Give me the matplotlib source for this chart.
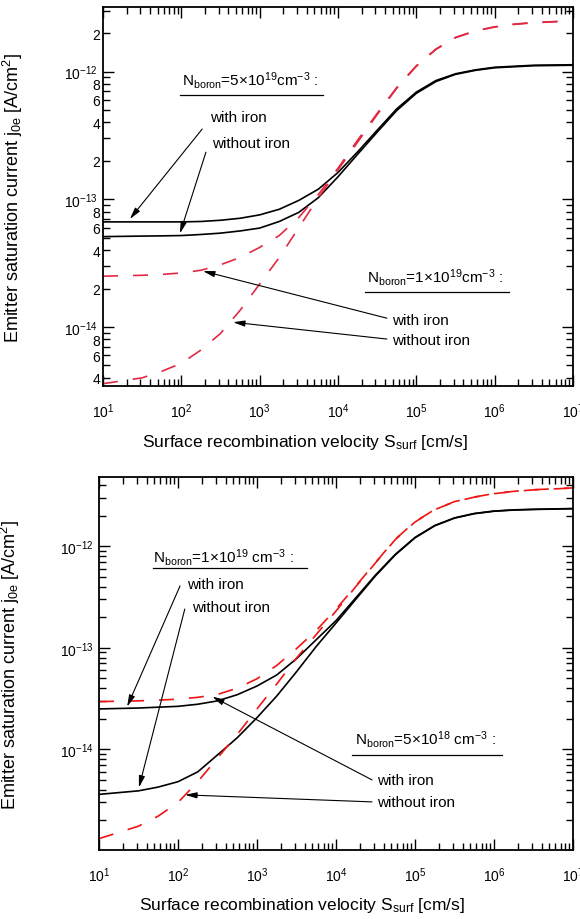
import numpy as np
import matplotlib
matplotlib.use('Agg')
import matplotlib.pyplot as plt
from matplotlib.ticker import LogLocator, LogFormatterMathtext, FuncFormatter, NullFormatter

plt.rcParams['font.family'] = ['Liberation Sans', 'DejaVu Sans']
plt.rcParams['mathtext.fontset'] = 'custom'
plt.rcParams['mathtext.rm'] = 'Liberation Sans'
plt.rcParams['mathtext.it'] = 'Liberation Sans:italic'
plt.rcParams['mathtext.default'] = 'regular'

# surface recombination velocity [cm/s]
s_surf = [10, 31.6, 56.2, 100, 178, 316, 562, 1000, 1780, 3160, 5620,
          1.0e4, 1.78e4, 3.16e4, 5.62e4, 1.0e5, 1.78e5, 3.16e5, 5.62e5, 1.0e6, 1.78e6, 3.16e6, 1.0e7]

# upper panel: black = 5e19, red = 1e19
top_5e19_fe = [6.65e-14, 6.65e-14, 6.65e-14, 6.65e-14, 6.7e-14, 6.85e-14, 7.1e-14, 7.55e-14, 8.35e-14, 9.8e-14, 1.2e-13,
               1.62e-13, 2.35e-13, 3.47e-13, 5.1e-13, 6.9e-13, 8.5e-13, 9.6e-13, 1.03e-12, 1.08e-12, 1.1e-12, 1.12e-12, 1.13e-12]
top_5e19_nofe = [5.1e-14, 5.15e-14, 5.17e-14, 5.2e-14, 5.3e-14, 5.43e-14, 5.65e-14, 5.95e-14, 6.7e-14, 7.9e-14, 1.03e-13,
                 1.5e-13, 2.25e-13, 3.35e-13, 4.95e-13, 6.75e-13, 8.35e-13, 9.5e-13, 1.02e-12, 1.07e-12, 1.09e-12, 1.11e-12, 1.12e-12]
top_1e19_fe = [2.5e-14, 2.54e-14, 2.58e-14, 2.65e-14, 2.78e-14, 3.07e-14, 3.5e-14, 4.2e-14, 5.2e-14, 7.2e-14, 1.09e-13,
               1.75e-13, 2.9e-13, 4.7e-13, 7.5e-13, 1.11e-12, 1.5e-12, 1.85e-12, 2.08e-12, 2.24e-12, 2.35e-12, 2.42e-12, 2.5e-12]
top_1e19_nofe = [3.6e-15, 4.0e-15, 4.5e-15, 5.2e-15, 6.6e-15, 8.9e-15, 1.35e-14, 2.17e-14, 3.5e-14, 6.0e-14, 1.03e-13,
                 1.7e-13, 2.8e-13, 4.6e-13, 7.4e-13, 1.1e-12, 1.49e-12, 1.84e-12, 2.07e-12, 2.23e-12, 2.34e-12, 2.41e-12, 2.49e-12]

# lower panel: black = 1e19, red = 5e18
bot_1e19_fe = [2.5e-14, 2.55e-14, 2.6e-14, 2.65e-14, 2.78e-14, 3.0e-14, 3.45e-14, 4.2e-14, 5.4e-14, 7.8e-14, 1.2e-13,
               1.85e-13, 3.1e-13, 5.2e-13, 8.3e-13, 1.22e-12, 1.6e-12, 1.9e-12, 2.1e-12, 2.22e-12, 2.28e-12, 2.31e-12, 2.35e-12]
bot_1e19_nofe = [3.6e-15, 3.9e-15, 4.25e-15, 4.8e-15, 6.0e-15, 8.8e-15, 1.3e-14, 2.05e-14, 3.35e-14, 5.8e-14, 1.03e-13,
                 1.75e-13, 3.0e-13, 5.1e-13, 8.2e-13, 1.21e-12, 1.59e-12, 1.89e-12, 2.09e-12, 2.21e-12, 2.27e-12, 2.3e-12, 2.34e-12]
bot_5e18_fe = [2.95e-14, 3.0e-14, 3.05e-14, 3.12e-14, 3.25e-14, 3.47e-14, 4.0e-14, 4.95e-14, 6.7e-14, 9.8e-14, 1.48e-13,
               2.4e-13, 4.05e-13, 6.9e-13, 1.17e-12, 1.74e-12, 2.3e-12, 2.75e-12, 3.05e-12, 3.3e-12, 3.47e-12, 3.6e-12, 3.75e-12]
bot_5e18_nofe = [1.32e-15, 1.75e-15, 2.2e-15, 3.0e-15, 4.8e-15, 8.2e-15, 1.4e-14, 2.5e-14, 4.4e-14, 7.9e-14, 1.35e-13,
                 2.3e-13, 4.0e-13, 6.85e-13, 1.16e-12, 1.73e-12, 2.29e-12, 2.74e-12, 3.04e-12, 3.29e-12, 3.46e-12, 3.59e-12, 3.74e-12]

XLABEL = 'Surface recombination velocity S$_{surf}$ [cm/s]'
YLABEL = 'Emitter saturation current j$_{0e}$ [A/cm$^{2}$]'


def minor_lbl(v, pos):
    # only 2, 4, 6, 8 get a label
    m = int(round(v / 10 ** np.floor(np.log10(v) + 1e-9)))
    return str(m) if m in (2, 4, 6, 8) else ''


def setup(ax, ylim, minor_labels):
    ax.set_xscale('log')
    ax.set_yscale('log')
    ax.set_xlim(10, 1e7)
    ax.set_ylim(*ylim)
    for a in (ax.xaxis, ax.yaxis):
        a.set_major_locator(LogLocator(base=10, numticks=20))
        a.set_minor_locator(LogLocator(base=10, subs=np.arange(2, 10), numticks=20))
        a.set_major_formatter(LogFormatterMathtext())
        a.set_minor_formatter(NullFormatter())
    if minor_labels:
        ax.yaxis.set_minor_formatter(FuncFormatter(minor_lbl))
    ax.tick_params(which='both', direction='in', top=True, right=True, width=1.0, labelsize=10)
    ax.tick_params(which='major', length=8)
    ax.tick_params(which='minor', length=5)
    ax.tick_params(axis='x', which='both', pad=11)
    ax.tick_params(axis='y', which='major', pad=4)
    ax.tick_params(axis='y', which='minor', pad=2)
    for sp in ax.spines.values():
        sp.set_linewidth(1.3)
    ax.set_xlabel(XLABEL, fontsize=12.5)
    ax.set_ylabel(YLABEL, fontsize=13)


def block(ax, title, tx, ty, line_x, line_y, lbl_x, lbl_y, tips, starts):
    ax.text(tx, ty, title, transform=ax.transAxes, fontsize=11, ha='left', va='center')
    ax.plot(line_x, [line_y, line_y], transform=ax.transAxes, color='black', lw=0.9, clip_on=False)
    ax.text(lbl_x[0], lbl_y[0], 'with iron', transform=ax.transAxes, fontsize=11, ha='left', va='center')
    ax.text(lbl_x[1], lbl_y[1], 'without iron', transform=ax.transAxes, fontsize=11, ha='left', va='center')
    for tip, st in zip(tips, starts):
        ax.annotate('', xy=tip, xycoords='data', xytext=st, textcoords='axes fraction',
                    arrowprops=dict(arrowstyle='-|>,head_length=0.7,head_width=0.18',
                                    color='black', lw=0.8, shrinkA=0, shrinkB=0))


fig = plt.figure(figsize=(5.8, 9.2), dpi=100)

# ---------------- upper panel ----------------
ax1 = fig.add_axes([0.1776, 0.5793, 0.8103, 0.412])
red1 = '#e02a44'
ax1.plot(s_surf, top_5e19_fe, color='black', lw=1.2)
ax1.plot(s_surf, top_5e19_nofe, color='black', lw=1.2)
ax1.plot(s_surf, top_1e19_fe, color=red1, lw=1.2, dashes=(9, 9))
ax1.plot(s_surf, top_1e19_nofe, color=red1, lw=1.2, dashes=(9, 9))
setup(ax1, (3.45e-15, 3.2e-12), True)
ax1.xaxis.set_label_coords(0.43, -0.122)
ax1.yaxis.set_label_coords(-0.166, 0.5)

block(ax1, 'N$_{boron}$=5×10$^{19}$cm$^{-3}$ :', 0.168, 0.810, [0.164, 0.468], 0.768,
      (0.228, 0.232), (0.710, 0.641),
      [(22, 7.0e-14), (96, 5.4e-14)], [(0.211, 0.678), (0.219, 0.617)])
block(ax1, 'N$_{boron}$=1×10$^{19}$cm$^{-3}$ :', 0.562, 0.290, [0.557, 0.864], 0.248,
      (0.615, 0.615), (0.174, 0.121),
      [(189, 2.74e-14), (457, 1.09e-14)], [(0.604, 0.179), (0.604, 0.124)])

# ---------------- lower panel ----------------
ax2 = fig.add_axes([0.1707, 0.075, 0.8172, 0.4054])
red2 = '#f01414'
ax2.plot(s_surf, bot_1e19_fe, color='black', lw=1.2)
ax2.plot(s_surf, bot_1e19_nofe, color='black', lw=1.2)
ax2.plot(s_surf, bot_5e18_fe, color=red2, lw=1.2, dashes=(9, 9))
ax2.plot(s_surf, bot_5e18_nofe, color=red2, lw=1.2, dashes=(9, 9))
setup(ax2, (1.02e-15, 4.8e-12), False)
ax2.xaxis.set_label_coords(0.429, -0.12)
ax2.yaxis.set_label_coords(-0.162, 0.5)

block(ax2, 'N$_{boron}$=1×10$^{19}$ cm$^{-3}$ :', 0.114, 0.786, [0.114, 0.439], 0.756,
      (0.186, 0.196), (0.713, 0.651),
      [(22.7, 2.63e-14), (32, 4.2e-15)], [(0.171, 0.708), (0.181, 0.646)])
block(ax2, 'N$_{boron}$=5×10$^{18}$ cm$^{-3}$ :', 0.540, 0.298, [0.534, 0.850], 0.255,
      (0.586, 0.586), (0.188, 0.129),
      [(272, 3.3e-14), (123, 3.56e-15)], [(0.576, 0.188), (0.576, 0.129)])

fig.savefig('out.png', dpi=100)
